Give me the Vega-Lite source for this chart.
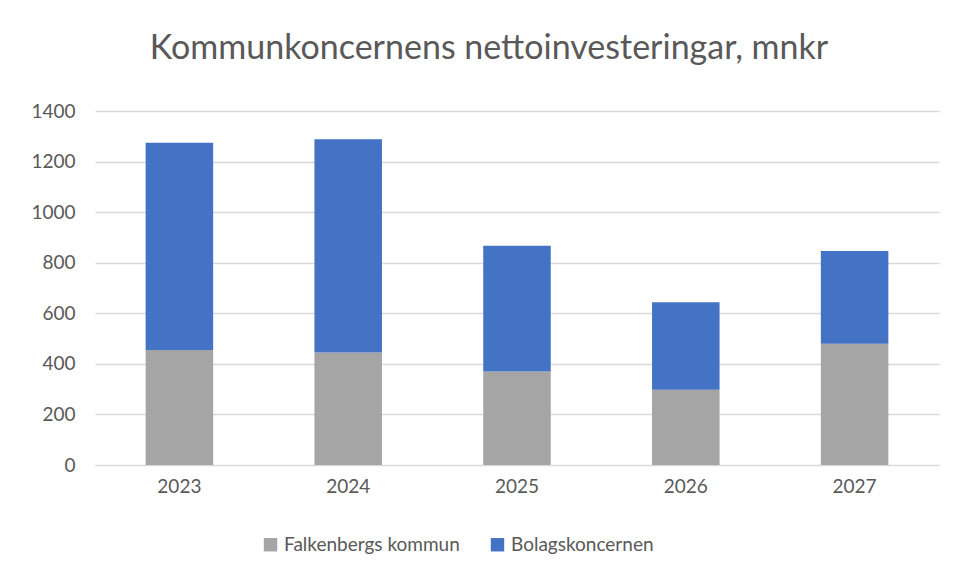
{
  "$schema": "https://vega.github.io/schema/vega-lite/v6.json",
  "width": 844,
  "height": 354,
  "autosize": {"type": "none"},
  "padding": {"left": 95, "top": 111, "right": 19, "bottom": 115},
  "background": "white",
  "title": {
    "text": "Kommunkoncernens  nettoinvesteringar, mnkr",
    "font": "Lato",
    "fontSize": 34,
    "fontWeight": "normal",
    "color": "#595959",
    "anchor": "middle",
    "dx": -28,
    "offset": 36
  },
  "data": {
    "values": [
      {"year": "2023", "series": "Falkenbergs kommun", "ord": 1, "value": 455},
      {"year": "2023", "series": "Bolagskoncernen", "ord": 2, "value": 819},
      {"year": "2024", "series": "Falkenbergs kommun", "ord": 1, "value": 445},
      {"year": "2024", "series": "Bolagskoncernen", "ord": 2, "value": 843},
      {"year": "2025", "series": "Falkenbergs kommun", "ord": 1, "value": 370},
      {"year": "2025", "series": "Bolagskoncernen", "ord": 2, "value": 497},
      {"year": "2026", "series": "Falkenbergs kommun", "ord": 1, "value": 298},
      {"year": "2026", "series": "Bolagskoncernen", "ord": 2, "value": 346},
      {"year": "2027", "series": "Falkenbergs kommun", "ord": 1, "value": 480},
      {"year": "2027", "series": "Bolagskoncernen", "ord": 2, "value": 366}
    ]
  },
  "mark": {"type": "bar"},
  "encoding": {
    "x": {
      "field": "year",
      "type": "nominal",
      "scale": {"paddingInner": 0.6, "paddingOuter": 0.3},
      "axis": {
        "title": null,
        "labelAngle": 0,
        "labelFont": "Lato",
        "labelFontSize": 19,
        "labelColor": "#595959",
        "labelPadding": 12,
        "ticks": false,
        "domainColor": "#d9d9d9",
        "domainWidth": 1
      }
    },
    "y": {
      "field": "value",
      "type": "quantitative",
      "aggregate": "sum",
      "stack": "zero",
      "scale": {"domain": [0, 1400]},
      "axis": {
        "title": null,
        "format": "d",
        "values": [0, 200, 400, 600, 800, 1000, 1200, 1400],
        "labelFont": "Lato",
        "labelFontSize": 19,
        "labelColor": "#595959",
        "labelPadding": 20,
        "ticks": false,
        "domain": false,
        "gridColor": "#d9d9d9",
        "gridWidth": 1.5
      }
    },
    "color": {
      "field": "series",
      "type": "nominal",
      "sort": ["Falkenbergs kommun", "Bolagskoncernen"],
      "scale": {
        "domain": ["Falkenbergs kommun", "Bolagskoncernen"],
        "range": ["#a5a5a5", "#4472c4"]
      },
      "legend": {
        "title": null,
        "orient": "none",
        "direction": "horizontal",
        "legendX": 166,
        "legendY": 424,
        "symbolType": "square",
        "symbolSize": 180,
        "symbolStrokeWidth": 0,
        "labelFont": "Lato",
        "labelFontSize": 19,
        "labelColor": "#595959",
        "labelOffset": 4,
        "labelLimit": 400,
        "columnPadding": 28
      }
    },
    "order": {"field": "ord", "type": "quantitative"}
  },
  "config": {
    "view": {"stroke": null}
  }
}
